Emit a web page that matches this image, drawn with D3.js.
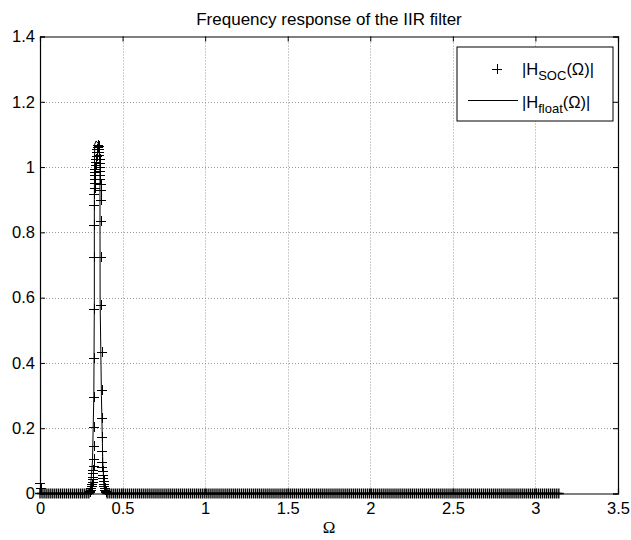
<!DOCTYPE html>
<html>
<head>
<meta charset="utf-8">
<script src="https://cdn.jsdelivr.net/npm/d3@7"></script>
<style>
  html, body { margin: 0; padding: 0; background: #fff; }
  svg { display: block; }
  text { font-family: "Liberation Sans", Arial, sans-serif; fill: #000; }
</style>
</head>
<body>
<svg id="chart" width="631" height="540"></svg>
<script>
// ---------------- DATA ----------------
const titleText = "Frequency response of the IIR filter";
const xTicks = [0, 0.5, 1, 1.5, 2, 2.5, 3, 3.5];
const xTickLabels = ["0", "0.5", "1", "1.5", "2", "2.5", "3", "3.5"];
const yTicks = [0, 0.2, 0.4, 0.6, 0.8, 1, 1.2, 1.4];
const yTickLabels = ["0", "0.2", "0.4", "0.6", "0.8", "1", "1.2", "1.4"];

// frequency grid of the SOC evaluation (0..pi), stop band values read as ~0
const freqCount = 256;
const omegaGrid = d3.range(freqCount).map(i => i * Math.PI / (freqCount - 1));
const stopBandLevel = 0;
const peakRegion = [0.298, 0.402];

// extra SOC points near Omega = 0
const socStartOmega = [0.0, 0.006];
const socStartValue = [0.031, 0.018];

// SOC points around the pass band
const socPeakOmega = [
  0.300, 0.304, 0.308, 0.311, 0.314, 0.316, 0.318, 0.320, 0.321, 0.322, 0.323, 0.324,
  0.325, 0.326, 0.327, 0.326, 0.327, 0.329, 0.329, 0.329, 0.329,
  0.330, 0.331, 0.332, 0.333, 0.334, 0.335, 0.336, 0.338, 0.339, 0.341, 0.343, 0.345,
  0.347, 0.349, 0.352, 0.355, 0.357, 0.359, 0.360, 0.361, 0.362, 0.363, 0.364, 0.365,
  0.366, 0.367, 0.368, 0.369,
  0.371, 0.372, 0.372, 0.373, 0.375, 0.375, 0.376, 0.376, 0.377, 0.378, 0.379, 0.381,
  0.383, 0.385, 0.387, 0.389, 0.391, 0.394, 0.397, 0.400
];
const socPeakValue = [
  0.004, 0.007, 0.011, 0.016, 0.022, 0.028, 0.035, 0.043, 0.052, 0.062, 0.072, 0.083,
  0.106, 0.145, 0.203, 0.297, 0.415, 0.566, 0.724, 0.823, 0.884,
  0.918, 0.935, 0.950, 0.962, 0.975, 0.985, 0.995, 1.005, 1.015, 1.025, 1.035, 1.045,
  1.055, 1.062, 1.068, 1.064, 1.056, 1.046, 1.036, 1.024, 1.012, 1.000, 0.988, 0.975,
  0.962, 0.948, 0.930, 0.900,
  0.836, 0.724, 0.576, 0.435, 0.318, 0.231, 0.172, 0.129, 0.096, 0.080, 0.068, 0.057,
  0.047, 0.038, 0.030, 0.023, 0.017, 0.011, 0.007, 0.004
];

// floating point reference response
const floatOmega = [0, 0.290, 0.306, 0.318, 0.326, 0.329, 0.329, 0.331, 0.340, 0.356,
  0.363, 0.364, 0.372, 0.380, 0.3875, 0.400, 0.420, Math.PI];
const floatValue = [0, 0.000, 0.020, 0.100, 0.300, 0.590, 0.900, 1.070, 1.080, 1.070,
  1.000, 0.590, 0.300, 0.100, 0.020, 0.005, 0.000, 0.000];

// ---------------- CHART ----------------
const svg = d3.select("#chart");
const pLeft = 40, pRight = 618, pTop = 36.5, pBottom = 493.5;
const x = d3.scaleLinear().domain([0, 3.5]).range([pLeft, pRight]);
const y = d3.scaleLinear().domain([0, 1.4]).range([pBottom, pTop]);

// grid
const grid = svg.append("g").attr("stroke", "#9a9a9a").attr("stroke-width", 1)
  .attr("stroke-dasharray", "1,2").attr("fill", "none");
xTicks.slice(1, -1).forEach(t => {
  grid.append("line").attr("x1", Math.round(x(t)) + 0.5).attr("x2", Math.round(x(t)) + 0.5)
    .attr("y1", pTop).attr("y2", pBottom);
});
yTicks.slice(1, -1).forEach(t => {
  grid.append("line").attr("y1", Math.round(y(t)) + 0.5).attr("y2", Math.round(y(t)) + 0.5)
    .attr("x1", pLeft).attr("x2", pRight);
});

// float line
const line = d3.line().x(d => x(d[0])).y(d => y(d[1]));
svg.append("path")
  .datum(floatOmega.map((w, i) => [w, floatValue[i]]))
  .attr("d", line).attr("fill", "none").attr("stroke", "#000").attr("stroke-width", 1);

// SOC markers
const bandPoints = [];
omegaGrid.forEach(w => {
  if (w < peakRegion[0] || w > peakRegion[1]) bandPoints.push([w, stopBandLevel]);
});
const peakPoints = [];
socStartOmega.forEach((w, i) => peakPoints.push([w, socStartValue[i]]));
socPeakOmega.forEach((w, i) => peakPoints.push([w, socPeakValue[i]]));

const bandPlus = "M-5,0H5M0,-5V5";
svg.append("g")
  .selectAll("path").data(bandPoints).join("path")
  .attr("transform", d => `translate(${x(d[0])},${y(d[1])})`)
  .attr("d", bandPlus).attr("fill", "none").attr("stroke", "#000").attr("stroke-width", 1.35);

const plusPath = "M-5,0.5H5M0.5,-4.5V5.5";
svg.append("g").attr("shape-rendering", "crispEdges")
  .selectAll("path").data(peakPoints).join("path")
  .attr("transform", d => `translate(${Math.round(x(d[0])) - 0.5},${Math.round(y(d[1])) - 0.5})`)
  .attr("d", plusPath).attr("fill", "none").attr("stroke", "#000").attr("stroke-width", 1);

// axes
const fs = "16.5px";
const gx = svg.append("g").attr("transform", `translate(0,${pBottom})`)
  .call(d3.axisBottom(x).tickValues(xTicks).tickSize(-5).tickPadding(9)
    .tickFormat((d, i) => xTickLabels[i]));
const gy = svg.append("g").attr("transform", `translate(${pLeft},0)`)
  .call(d3.axisLeft(y).tickValues(yTicks).tickSize(-5).tickPadding(5)
    .tickFormat((d, i) => yTickLabels[i]));
const gt = svg.append("g").attr("transform", `translate(0,${pTop})`)
  .call(d3.axisTop(x).tickValues(xTicks).tickSize(-5).tickFormat(""));
const gr = svg.append("g").attr("transform", `translate(${pRight},0)`)
  .call(d3.axisRight(y).tickValues(yTicks).tickSize(-5).tickFormat(""));
[gx, gy, gt, gr].forEach(g => {
  g.select(".domain").attr("stroke", "#000").attr("stroke-width", 1.2);
  g.selectAll(".tick line").attr("stroke", "#000");
  g.selectAll("text").attr("font-size", fs).attr("font-family", "Liberation Sans, Arial, sans-serif").attr("fill", "#000");
});

// title and x label
svg.append("text").attr("x", (pLeft + pRight) / 2).attr("y", 25).attr("text-anchor", "middle")
  .attr("font-size", "17px").text(titleText);
svg.append("text").attr("x", (pLeft + pRight) / 2).attr("y", 533).attr("text-anchor", "middle")
  .attr("font-size", "17px").style("font-family", "'Liberation Serif', 'Times New Roman', serif")
  .text("Ω");

// legend
const lg = svg.append("g");
lg.append("rect").attr("x", 457).attr("y", 47).attr("width", 156).attr("height", 74)
  .attr("fill", "#fff").attr("stroke", "#000").attr("stroke-width", 1);
lg.append("path").attr("transform", "translate(496.5,68.5)").attr("d", plusPath)
  .attr("shape-rendering", "crispEdges").attr("fill", "none").attr("stroke", "#000");
lg.append("line").attr("x1", 468).attr("x2", 518).attr("y1", 100.5).attr("y2", 100.5)
  .attr("stroke", "#000");
function legendLabel(yb, sub) {
  const t = lg.append("text").attr("x", 522).attr("y", yb).attr("font-size", fs);
  t.append("tspan").text("|H");
  t.append("tspan").attr("font-size", "13px").attr("dy", 5).text(sub);
  t.append("tspan").attr("dy", -5).text("(Ω)|");
}
legendLabel(75, "SOC");
legendLabel(108, "float");
</script>
</body>
</html>
